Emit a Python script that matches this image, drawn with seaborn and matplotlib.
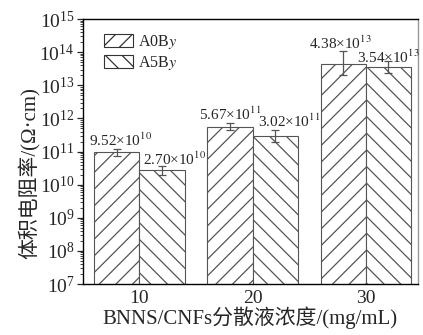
import matplotlib
matplotlib.use("Agg")
import matplotlib.pyplot as plt
import seaborn as sns
import pandas as pd
import numpy as np
from matplotlib.patches import Patch
from matplotlib.ticker import LogLocator

categories = ["10", "20", "30"]
series = ["A0By", "A5By"]
a0_values = [9.52e10, 5.67e11, 4.38e13]
a5_values = [2.70e10, 3.02e11, 3.54e13]
a0_err_low = [7.6e10, 4.6e11, 2.0e13]
a0_err_high = [1.18e11, 7.4e11, 1.12e14]
a5_err_low = [2.0e10, 2.0e11, 2.3e13]
a5_err_high = [3.6e10, 4.5e11, 5.6e13]
a0_labels = [r"9.52×10$^{10}$", r"5.67×10$^{11}$", r"4.38×10$^{13}$"]
a5_labels = [r"2.70×10$^{10}$", r"3.02×10$^{11}$", r"3.54×10$^{13}$"]
legend_labels = [r"A0B$y$", r"A5B$y$"]

sns.set_theme(style="ticks")
plt.rcParams['font.family'] = ['Liberation Serif', 'Noto Sans CJK SC']
plt.rcParams['mathtext.fontset'] = 'stix'
plt.rcParams['hatch.linewidth'] = 0.9
plt.rcParams['hatch.color'] = '#222222'

df = pd.DataFrame({
    "conc": categories * 2,
    "series": [series[0]] * 3 + [series[1]] * 3,
    "value": a0_values + a5_values,
})

fig = plt.figure(figsize=(4.23, 3.35), dpi=100)
ax = fig.add_axes([0.196, 0.152, 0.792, 0.791])
sns.barplot(data=df, x="conc", y="value", hue="series", order=categories,
            hue_order=series, palette=["white", "white"], edgecolor="#555555",
            linewidth=0.8, width=0.8, errorbar=None, legend=False, ax=ax)
ax.set_yscale("log")
ax.set_ylim(1e7, 1e15)
ax.set_xlim(-0.5, 2.46)

hatches = ["//", "\\\\"]
bars = [p for p in ax.patches if p.get_height() > 0]
ngroup = len(categories)
vals = [a0_values, a5_values]
lows = [a0_err_low, a5_err_low]
highs = [a0_err_high, a5_err_high]
labs = [a0_labels, a5_labels]
label_dx = [[3, 0, -2], [9, 10, 0]]
label_dy = [[0, 0, -1], [-1, 0, -4]]
for s in range(2):
    for i in range(ngroup):
        b = bars[s * ngroup + i]
        b.set_hatch(hatches[s])
        xc = b.get_x() + b.get_width() / 2
        v = vals[s][i]
        ax.errorbar(xc, v, yerr=[[v - lows[s][i]], [highs[s][i] - v]],
                    fmt="none", ecolor="#555555", elinewidth=0.9, capsize=3,
                    capthick=0.9)
        ax.annotate(labs[s][i], (xc, highs[s][i]),
                    xytext=(label_dx[s][i], label_dy[s][i]),
                    textcoords="offset points", ha="center", va="bottom",
                    fontsize=11)

ax.yaxis.set_major_locator(LogLocator(base=10, numticks=20))
ax.yaxis.set_minor_locator(LogLocator(base=10, subs=np.arange(2, 10), numticks=20))
ax.tick_params(axis="y", which="major", length=4, width=0.9, labelsize=14, direction="out", pad=2)
ax.tick_params(axis="y", which="minor", length=2, width=0.6, direction="out")
ax.tick_params(axis="x", length=0, labelsize=14, pad=4)
for sp in ["left", "bottom", "top"]:
    ax.spines[sp].set_color("black")
    ax.spines[sp].set_linewidth(1.0)
ax.spines["right"].set_color("#999999")
ax.spines["right"].set_linewidth(1.0)

ax.set_xlabel("BNNS/CNFs分散液浓度/(mg/mL)", fontsize=15, labelpad=0)
ax.set_ylabel("体积电阻率/(Ω·cm)", fontsize=15)
ax.yaxis.set_label_coords(-0.13, 0.42)

handles = [Patch(facecolor="white", edgecolor="#333333", hatch=hatches[k], linewidth=0.8)
           for k in range(2)]
ax.legend(handles, legend_labels, loc="upper left", frameon=False, fontsize=11.5,
          handlelength=1.8, handleheight=0.9, handletextpad=0.3, labelspacing=0.2,
          bbox_to_anchor=(0.03, 0.99), borderaxespad=0.3)

fig.savefig("out.png", dpi=100)
